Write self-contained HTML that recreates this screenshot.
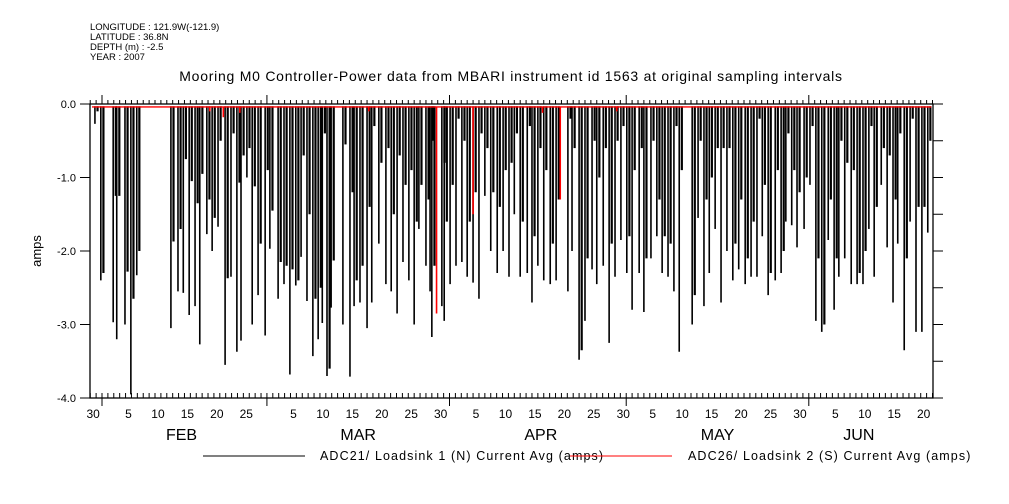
<!DOCTYPE html>
<html><head><meta charset="utf-8"><style>
body{margin:0;background:#fff;width:1009px;height:504px;overflow:hidden}
svg{display:block;font-family:"Liberation Sans",sans-serif}
</style></head><body>
<svg id="chart" width="1009" height="504" viewBox="0 0 1009 504">
<g font-size="9.5" fill="#000">
<text x="90" y="30">LONGITUDE : 121.9W(-121.9)</text>
<text x="90" y="40">LATITUDE : 36.8N</text>
<text x="90" y="50">DEPTH (m) : -2.5</text>
<text x="90" y="60">YEAR : 2007</text>
</g>
<text x="511" y="81" text-anchor="middle" font-size="14" letter-spacing="0.75">Mooring M0 Controller-Power data from MBARI instrument id 1563 at original sampling intervals</text>
<text transform="translate(41,251) rotate(-90)" text-anchor="middle" font-size="13">amps</text>
<g id="axes"></g>
<g id="marks"></g>
<g>
<line x1="203" y1="456" x2="305" y2="456" stroke="#000"/>
<text x="320" y="460" font-size="12.5" letter-spacing="1.1">ADC21/ Loadsink 1 (N) Current Avg (amps)</text>
<line x1="570" y1="456" x2="672" y2="456" stroke="#f00"/>
<text x="688" y="460" font-size="12.5" letter-spacing="1.1">ADC26/ Loadsink 2 (S) Current Avg (amps)</text>
</g>
</svg>
<script>
// days since Feb 1 2007
const spikeDays=[-1.2,-0.2,1.9,2.5,3.9,4.9,5.9,11.7,12.9,13.8,14.8,15.8,16.6,17.8,18.7,19.7,20.9,21.9,22.9,23.6,24.6,25.5,26.5,27.7,28.5,29.9,30.9,31.9,32.9,33.8,34.8,35.8,36.7,37.4,38.2,38.9,40.9,42.1,42.8,43.8,45.0,45.8,47.0,48.2,49.1,50.1,51.1,52.1,53.0,53.8,55.0,55.7,56.0,57.7,58.1,59.1,60.1,61.1,62.0,63.0,64.0,65.0,66.0,67.1,68.1,69.1,70.0,71.0,72.2,73.0,74.0,75.0,76.1,77.1,79.1,79.8,81.0,82.0,83.2,84.0,85.1,86.1,87.1,88.1,89.1,90.0,91.2,92.0,93.2,94.2,95.1,96.1,97.1,98.0,100.2,101.2,102.2,103.1,104.1,105.1,106.1,107.1,108.1,109.2,110.2,111.2,112.1,113.1,114.3,115.3,116.1,117.1,118.0,119.2,120.2,121.2,122.2,123.3,124.3,125.1,126.1,127.2,128.2,129.2,130.2,131.1,132.3,133.3,134.3,135.1,136.2,137.2,138.2,139.2,140.2];
const mainVals=[-0.27,-2.4,-2.97,-3.2,-3.0,-3.95,-2.33,-3.05,-2.55,-2.57,-2.87,-2.75,-3.27,-1.77,-2.0,-1.67,-3.55,-2.35,-3.37,-3.22,-1.0,-3.0,-2.6,-3.15,-1.97,-2.65,-2.45,-3.68,-2.47,-2.08,-2.68,-3.43,-3.2,-2.98,-3.7,-2.77,-3.0,-3.71,-2.75,-2.7,-3.05,-2.7,-1.9,-2.45,-2.55,-2.85,-2.15,-2.4,-3.0,-1.7,-2.2,-2.55,-3.17,-2.75,-2.95,-2.45,-2.2,-2.15,-2.35,-2.43,-2.65,-1.25,-2.0,-2.3,-2.0,-2.35,-1.5,-2.35,-2.3,-2.7,-2.2,-2.4,-2.45,-2.4,-2.55,-2.0,-3.48,-2.95,-2.25,-2.45,-2.2,-3.25,-2.35,-1.85,-2.3,-2.8,-2.3,-2.83,-2.1,-1.8,-2.3,-2.35,-2.55,-3.37,-3.0,-1.55,-2.75,-2.3,-1.7,-2.7,-2.0,-2.4,-2.25,-2.45,-2.35,-2.35,-1.8,-2.6,-2.4,-2.3,-1.6,-1.65,-1.95,-1.7,-1.1,-2.95,-3.1,-1.85,-2.8,-2.35,-2.1,-2.45,-2.45,-2.45,-1.7,-2.35,-1.1,-1.95,-2.7,-1.9,-3.35,-1.6,-3.1,-3.1,-1.75,-2.25,-2.7];
const subVals=[-0.1,-2.3,-1.25,-1.25,-2.28,-2.65,-2.0,-1.87,-1.7,-0.75,-1.05,-1.35,-0.95,-1.3,-1.55,-0.5,-2.37,-0.4,-1.07,-0.7,-0.6,-1.12,-1.9,-0.9,-1.45,-2.15,-2.2,-2.25,-2.4,-0.7,-1.5,-2.65,-2.5,-0.4,-3.6,-2.13,-0.55,-1.2,-2.4,-2.2,-1.4,-0.3,-0.8,-0.6,-1.5,-0.7,-1.1,-0.9,-1.6,-1.1,-1.3,-0.5,-2.2,-0.8,-1.6,-1.1,-0.2,-0.5,-1.6,-1.2,-0.4,-0.6,-1.2,-1.4,-0.9,-0.8,-0.4,-1.6,-0.3,-1.8,-0.6,-0.9,-1.9,-1.3,-0.2,-0.6,-3.35,-2.1,-0.5,-1.0,-0.6,-1.9,-0.5,-0.3,-1.8,-0.9,-0.6,-2.1,-0.5,-1.3,-1.8,-1.9,-0.3,-0.9,-2.6,-0.5,-1.3,-1.0,-0.6,-0.6,-0.6,-1.9,-1.3,-2.1,-1.6,-0.2,-1.1,-2.3,-0.9,-2.0,-0.4,-0.9,-1.2,-1.0,-0.3,-2.1,-3.0,-1.3,-2.1,-0.5,-0.8,-0.9,-2.3,-2.0,-0.3,-1.4,-0.6,-0.7,-1.3,-0.4,-2.1,-0.2,-1.4,-1.4,-0.5,-0.2,-0.8];
const redDays=[56.8,63.0,77.8,18.3,20.6,23.4,45.3,74.8,87.4];
const redVals=[-2.85,-1.5,-1.3,-0.1,-0.18,-0.12,-0.1,-0.12,-0.1];
const redBase=-0.04;
const yTicks=[0,-1,-2,-3,-4];
const yTickLabels=["0.0","-1.0","-2.0","-3.0","-4.0"];
const dayLabelDays=[-2,4,9,14,19,24,32,37,42,47,52,57,63,68,73,78,83,88,93,98,103,108,113,118,124,129,134,139];
const dayLabels=["30","5","10","15","20","25","5","10","15","20","25","30","5","10","15","20","25","30","5","10","15","20","25","30","5","10","15","20"];
const monthStarts=[0,28,59,89,120];
const monthNames=["FEB","MAR","APR","MAY","JUN"];
const monthMid=[13.5,43.5,74.5,104.5,128.5];

const X0=90,X1=933,Y0=104,Y1=398;
const x=d=>102+5.89*d;
function yy(v){return Y0+(-v)*(Y1-Y0)/4;}
const NS="http://www.w3.org/2000/svg";
function mk(t,a,p){const e=document.createElementNS(NS,t);for(const k in a)e.setAttribute(k,a[k]);p.appendChild(e);return e;}
const axes=document.getElementById('axes'),marks=document.getElementById('marks');

let e;
e=mk('rect',{x:X0,y:Y0,width:X1-X0,height:Y1-Y0,fill:'none',stroke:'#000','stroke-width':1.3},axes);


for(let v=0;v>=-4;v-=0.5){
  const major=Math.abs(v%1)<1e-9;
  if(major){e=mk('line',{x1:X0-10,y1:yy(v),x2:X0,y2:yy(v),stroke:'#000'},axes);
  
  }
  e=mk('line',{x1:X1,y1:yy(v),x2:X1+10,y2:yy(v),stroke:'#000'},axes);
  
  
}
yTicks.forEach((v,i)=>{
  e=mk('text',{x:76,y:yy(v)+4,'text-anchor':'end','font-size':11},axes);e.textContent=yTickLabels[i];
  
  
});
for(let d=-2;d<=141;d++){
  const xx=x(d);if(xx<X0||xx>X1)continue;
  const major=monthStarts.includes(d);
  e=mk('line',{x1:xx,y1:major?Y0-9:Y0-4,x2:xx,y2:Y0,stroke:'#000'},axes);
  
  
  e=mk('line',{x1:xx,y1:Y1-5,x2:xx,y2:major?Y1+8:Y1,stroke:'#000'},axes);
  
  
}
dayLabelDays.forEach((d,i)=>{
  e=mk('text',{x:x(d+0.5),y:418,'text-anchor':'middle','font-size':12},axes);e.textContent=dayLabels[i];
  
  
});
monthNames.forEach((m,i)=>{
  e=mk('text',{x:x(monthMid[i]),y:440,'text-anchor':'middle','font-size':16},axes);e.textContent=m;
  
  
});
spikeDays.forEach((d,i)=>{
  e=mk('line',{x1:x(d),y1:yy(-0.03),x2:x(d),y2:yy(mainVals[i]),stroke:'#000','stroke-width':1.6},marks);
  
  
  e=mk('line',{x1:x(d)+2.6,y1:yy(-0.03),x2:x(d)+2.6,y2:yy(subVals[i]),stroke:'#000','stroke-width':2.2},marks);
  
  
});
e=mk('line',{x1:x(-1.7),y1:yy(redBase),x2:x(140.8),y2:yy(redBase),stroke:'#f00','stroke-width':1.4},marks);


redDays.forEach((d,i)=>{
  e=mk('line',{x1:x(d),y1:yy(redBase),x2:x(d),y2:yy(redVals[i]),stroke:'#f00','stroke-width':1.6},marks);
  
  
});
</script>
</body></html>
